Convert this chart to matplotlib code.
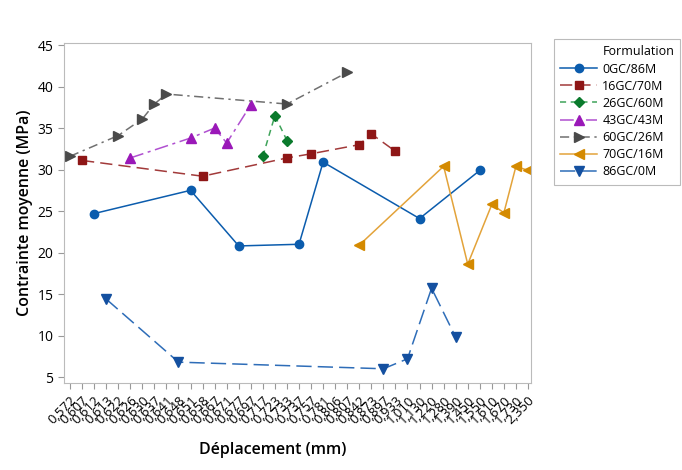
import matplotlib
matplotlib.use("Agg")
import matplotlib.pyplot as plt
from matplotlib.lines import Line2D

plt.rcParams['font.family'] = ['Open Sans', 'DejaVu Sans']

x_labels = ["0,572", "0,607", "0,612", "0,613", "0,622", "0,626", "0,630", "0,637",
            "0,641", "0,648", "0,651", "0,658", "0,667", "0,671", "0,677", "0,697",
            "0,717", "0,723", "0,733", "0,737", "0,757", "0,781", "0,806", "0,807",
            "0,842", "0,873", "0,897", "0,933", "1,010", "1,130", "1,220", "1,280",
            "1,390", "1,450", "1,550", "1,610", "1,670", "1,730", "2,350"]

s0_x = ["0,612", "0,651", "0,677", "0,737", "0,781", "1,130", "1,550"]
s0_y = [24.7, 27.5, 20.8, 21.0, 30.9, 24.1, 29.9]

s16_x = ["0,607", "0,658", "0,733", "0,757", "0,842", "0,873", "0,933"]
s16_y = [31.1, 29.2, 31.4, 31.9, 33.0, 34.3, 32.2]

s26_x = ["0,717", "0,723", "0,733"]
s26_y = [31.6, 36.5, 33.5]

s43_x = ["0,626", "0,651", "0,667", "0,671", "0,697"]
s43_y = [31.4, 33.8, 35.0, 33.2, 37.8]

s60_x = ["0,572", "0,622", "0,630", "0,637", "0,641", "0,733", "0,807"]
s60_y = [31.6, 34.1, 36.1, 37.9, 39.1, 37.9, 41.7]

s70_x = ["0,842", "1,280", "1,450", "1,610", "1,670", "1,730", "2,350"]
s70_y = [20.9, 30.4, 18.6, 25.8, 24.8, 30.4, 29.9]

s86_x = ["0,613", "0,648", "0,897", "1,010", "1,220", "1,390"]
s86_y = [14.4, 6.8, 6.0, 7.2, 15.7, 9.8]

series_names = ["0GC/86M", "16GC/70M", "26GC/60M", "43GC/43M", "60GC/26M", "70GC/16M", "86GC/0M"]

fig = plt.figure(figsize=(6.82, 4.70), dpi=100)
ax = fig.add_axes([0.0938, 0.185, 0.685, 0.7235])

pos = {lab: i for i, lab in enumerate(x_labels)}

styles = [
    (s0_x, s0_y, dict(color='#0B5CAD', mc='#0B5CAD', ls='-', marker='o', ms=6)),
    (s16_x, s16_y, dict(color='#A23A3A', mc='#8E1616', ls=(0, (8, 4)), marker='s', ms=6)),
    (s26_x, s26_y, dict(color='#3FA35A', mc='#0A7A2C', ls=(0, (4, 3)), marker='D', ms=5.5)),
    (s43_x, s43_y, dict(color='#B050D0', mc='#9A18B8', ls=(0, (9, 3, 2, 3)), marker='^', ms=7)),
    (s60_x, s60_y, dict(color='#707070', mc='#4A4A4A', ls=(0, (6, 3, 1.5, 3)), marker='>', ms=7)),
    (s70_x, s70_y, dict(color='#E3A33A', mc='#D48A00', ls='-', marker='<', ms=7)),
    (s86_x, s86_y, dict(color='#2E6DB8', mc='#1450A0', ls=(0, (10, 4)), marker='v', ms=7)),
]

handles = [Line2D([], [], color='none', lw=0)]
labels = ["Formulation"] + series_names
for (xs, ys, st), name in zip(styles, series_names):
    xi = [pos[v] for v in xs]
    ax.plot(xi, ys, color=st['color'], ls=st['ls'], lw=1.1, marker=st['marker'],
            ms=st['ms'], mfc=st['mc'], mec=st['mc'])
    handles.append(Line2D([0], [0], color=st['color'], ls=st['ls'], lw=1.1,
                          marker=st['marker'], ms=st['ms'], mfc=st['mc'], mec=st['mc']))

ax.set_xlim(-0.5, 38.26)
ax.set_ylim(4.28, 45.25)
ax.set_xticks(range(len(x_labels)))
ax.set_xticklabels(x_labels, rotation=45, ha='right', rotation_mode='anchor', fontsize=9.5)
ax.set_yticks([5, 10, 15, 20, 25, 30, 35, 40, 45])
ax.tick_params(axis='y', labelsize=10, color='#999999', length=4)
ax.tick_params(axis='x', color='#999999', length=4)
for sp in ax.spines.values():
    sp.set_color('#BBBBBB')

ax.set_ylabel("Contrainte moyenne (MPa)", fontsize=11.5, fontweight='semibold', labelpad=3)
fig.text(0.4, 0.035, "Déplacement (mm)", fontsize=11.5, fontweight='semibold', ha='center')

leg = fig.legend(handles, labels, loc='upper left',
                 bbox_to_anchor=(0.808, 0.922), frameon=True, fontsize=9,
                 handlelength=3.0, borderpad=0.5, handletextpad=0.4,
                 borderaxespad=0.2, labelspacing=0.33, fancybox=False, edgecolor='#AAAAAA')
leg.get_frame().set_linewidth(0.8)

fig.savefig("out.png", dpi=100)
